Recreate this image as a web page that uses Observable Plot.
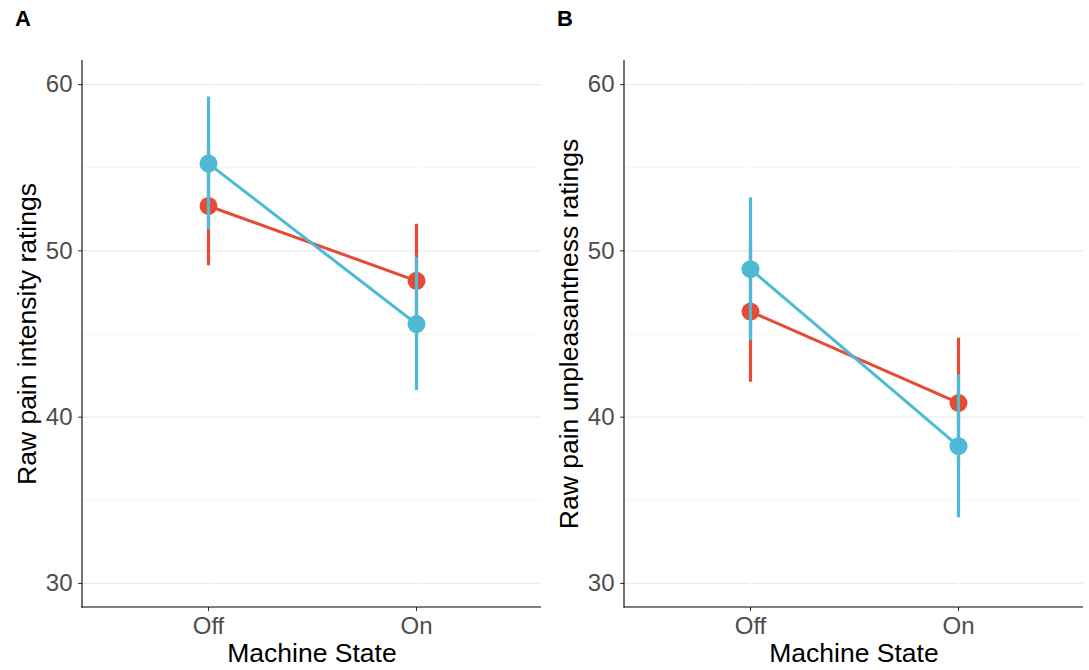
<!DOCTYPE html>
<html>
<head>
<meta charset="utf-8">
<script src="https://cdn.jsdelivr.net/npm/d3@7"></script>
<script src="https://cdn.jsdelivr.net/npm/@observablehq/plot@0.6"></script>
<style>
  html, body { margin: 0; padding: 0; background: #fff; }
  #wrap { position: relative; width: 1089px; height: 670px; display: flex; font-family: "Liberation Sans", Arial, Helvetica, sans-serif; }
  .tag { position: absolute; top: 6px; font-weight: bold; font-size: 22px; color: #000; }
</style>
</head>
<body>
<div id="wrap">
  <div class="tag" style="left:15px">A</div>
  <div class="tag" style="left:557px">B</div>
</div>
<script>
const states = ["Off", "On"];
const seriesNames = ["Series 1", "Series 2"];
const seriesColors = ["#E64B35", "#4DBBD5"];
const yTicks = [30, 40, 50, 60];
const yMinor = [35, 45, 55];

// Panel A: raw pain intensity
const intensityRedMean = [52.7, 48.2];
const intensityRedErr = [3.6, 3.4];
const intensityBlueMean = [55.25, 45.6];
const intensityBlueErr = [4.0, 4.0];

// Panel B: raw pain unpleasantness
const unpleasRedMean = [46.35, 40.85];
const unpleasRedErr = [4.25, 3.9];
const unpleasBlueMean = [48.9, 38.25];
const unpleasBlueErr = [4.3, 4.3];

function rows(redMean, redErr, blueMean, blueErr) {
  const out = [];
  states.forEach((s, i) => out.push({state: s, series: seriesNames[0], mean: redMean[i], err: redErr[i]}));
  states.forEach((s, i) => out.push({state: s, series: seriesNames[1], mean: blueMean[i], err: blueErr[i]}));
  return out;
}

const font = "Liberation Sans, Arial, Helvetica, sans-serif";

function panel(data, ylabel, width, marginLeft, marginRight) {
  const axisLines = (index, scales, values, dim) => {
    const g = d3.create("svg:g");
    const x0 = dim.marginLeft, x1 = dim.width - dim.marginRight;
    const y0 = dim.marginTop, y1 = dim.height - dim.marginBottom;
    g.append("line").attr("x1", x0).attr("x2", x0).attr("y1", y0).attr("y2", y1 + 0.5).attr("stroke", "#000").attr("stroke-width", 1.1);
    g.append("line").attr("x1", x0 - 0.5).attr("x2", x1).attr("y1", y1).attr("y2", y1).attr("stroke", "#000").attr("stroke-width", 1.1);
    return g.node();
  };
  const red = data.filter(d => d.series === seriesNames[0]);
  const blue = data.filter(d => d.series === seriesNames[1]);
  return Plot.plot({
    width, height: 670,
    marginTop: 60, marginBottom: 63, marginLeft, marginRight,
    style: {fontFamily: font, background: "#fff", overflow: "visible"},
    x: {type: "point", domain: states, padding: 0.6, label: null},
    y: {domain: [28.55, 61.45], label: null},
    color: {domain: seriesNames, range: seriesColors},
    marks: [
      Plot.ruleY(yMinor, {stroke: "#f1f1f1", strokeWidth: 0.8}),
      Plot.ruleY(yTicks, {stroke: "#ebebeb", strokeWidth: 1.4}),
      Plot.ruleX(states, {stroke: "#fff", strokeWidth: 1.6}),
      Plot.dot(data, {x: "state", y: "mean", fill: "series", r: 9}),
      Plot.line(data, {x: "state", y: "mean", stroke: "series", z: "series", strokeWidth: 3}),
      Plot.ruleX(red, {x: "state", y1: d => d.mean - d.err, y2: d => d.mean + d.err, stroke: seriesColors[0], strokeWidth: 3.2}),
      Plot.ruleX(blue, {x: "state", y1: d => d.mean - d.err, y2: d => d.mean + d.err, stroke: seriesColors[1], strokeWidth: 3.2}),
      Plot.axisY(yTicks, {tickSize: 4, tickPadding: 6, fontSize: 24, color: "#4d4d4d", stroke: "#333", label: null}),
      Plot.axisX({tickSize: 4, tickPadding: 5, fontSize: 24, color: "#4d4d4d", stroke: "#333", label: null}),
      Plot.text([ylabel], {frameAnchor: "left", textAnchor: "middle", rotate: -90, dx: -55, fontSize: 26.5, fill: "#000"}),
      Plot.text(["Machine State"], {frameAnchor: "bottom", textAnchor: "middle", dy: 54, fontSize: 26.5, fill: "#000"}),
      axisLines
    ]
  });
}

const wrap = document.getElementById("wrap");
wrap.appendChild(panel(rows(intensityRedMean, intensityRedErr, intensityBlueMean, intensityBlueErr), "Raw pain intensity ratings", 544, 82, 3));
wrap.appendChild(panel(rows(unpleasRedMean, unpleasRedErr, unpleasBlueMean, unpleasBlueErr), "Raw pain unpleasantness ratings", 545, 80, 6));
</script>
</body>
</html>
